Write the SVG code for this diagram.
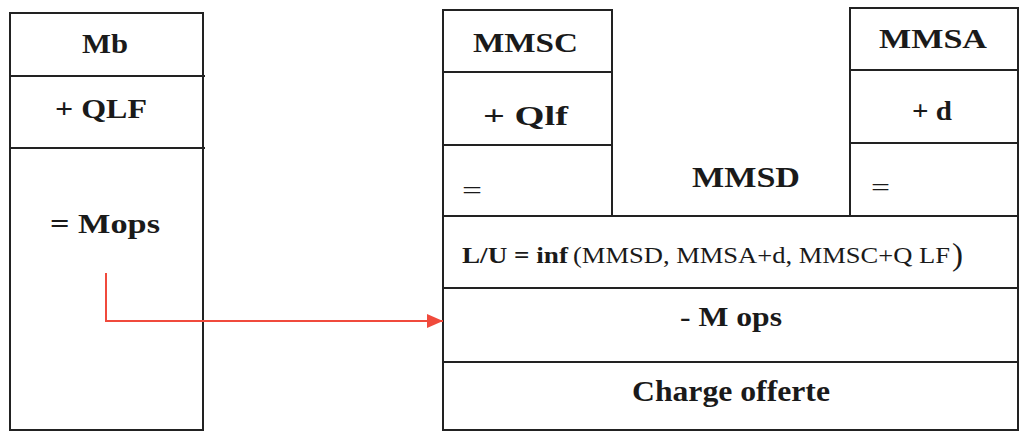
<svg xmlns="http://www.w3.org/2000/svg" width="1020" height="432" viewBox="0 0 1020 432">
<style>
.box{fill:none;stroke:#222;stroke-width:2}
.ln{stroke:#222;stroke-width:2}
.b{font-family:"Liberation Serif",serif;font-weight:bold;fill:#1a1a1a}
.r{font-family:"Liberation Serif",serif;font-weight:normal;fill:#1a1a1a}
.conn{fill:none;stroke:#f04a3c;stroke-width:2}
</style>
<defs>
<marker id="ah" viewBox="0 0 16 14" refX="16" refY="7" markerWidth="16" markerHeight="14" markerUnits="userSpaceOnUse" orient="auto">
<path d="M0,0 L16,7 L0,14 Z" fill="#f04a3c"/>
</marker>
</defs>
<rect width="1020" height="432" fill="#fff"/>

<g id="left">
<rect class="box" x="10" y="13" width="193" height="417"/>
<line class="ln" x1="10" y1="76" x2="205" y2="76"/>
<line class="ln" x1="10" y1="148" x2="205" y2="148"/>
<text class="b" x="82" y="53" font-size="27" textLength="46" lengthAdjust="spacingAndGlyphs">Mb</text>
<text class="b" x="55" y="118" font-size="27" textLength="92" lengthAdjust="spacingAndGlyphs">+ QLF</text>
<text class="b" x="50" y="233" font-size="27" textLength="110" lengthAdjust="spacingAndGlyphs">=  Mops</text>
</g>

<g id="mmsc">
<rect class="box" x="443" y="10" width="169" height="206"/>
<line class="ln" x1="443" y1="72" x2="612" y2="72"/>
<line class="ln" x1="443" y1="145" x2="612" y2="145"/>
<text class="b" x="473" y="52" font-size="27" textLength="105" lengthAdjust="spacingAndGlyphs">MMSC</text>
<text class="b" x="483" y="125" font-size="27" textLength="85" lengthAdjust="spacingAndGlyphs">+ Qlf</text>
<text class="r" x="462" y="198" font-size="24" textLength="20" lengthAdjust="spacingAndGlyphs">=</text>
</g>

<g id="mmsa">
<rect class="box" x="850" y="8" width="168" height="208"/>
<line class="ln" x1="850" y1="70" x2="1018" y2="70"/>
<line class="ln" x1="850" y1="143" x2="1018" y2="143"/>
<text class="b" x="879" y="48" font-size="27" textLength="108" lengthAdjust="spacingAndGlyphs">MMSA</text>
<text class="b" x="912" y="120" font-size="27" textLength="40" lengthAdjust="spacingAndGlyphs">+ d</text>
<text class="r" x="871" y="195" font-size="24" textLength="19" lengthAdjust="spacingAndGlyphs">=</text>
</g>

<g id="mmsd">
<text class="b" x="692" y="187" font-size="29" textLength="108" lengthAdjust="spacingAndGlyphs">MMSD</text>
</g>

<g id="main">
<rect class="box" x="443" y="216" width="575" height="214"/>
<line class="ln" x1="443" y1="288" x2="1018" y2="288"/>
<line class="ln" x1="443" y1="362" x2="1018" y2="362"/>
<text class="b" x="462" y="263" font-size="23" textLength="106" lengthAdjust="spacingAndGlyphs">L/U = inf</text>
<text class="r" x="573" y="263" font-size="23" textLength="377" lengthAdjust="spacingAndGlyphs">(MMSD, MMSA+d, MMSC+Q LF</text>
<text class="r" x="952" y="265" font-size="32" textLength="11" lengthAdjust="spacingAndGlyphs">)</text>
<text class="b" x="680" y="326" font-size="27" textLength="102" lengthAdjust="spacingAndGlyphs">- M ops</text>
<text class="b" x="632" y="401" font-size="30" textLength="198" lengthAdjust="spacingAndGlyphs">Charge offerte</text>
</g>

<g id="connectors">
<path class="conn" d="M106,273 L106,321 L443,321" marker-end="url(#ah)"/>
</g>
</svg>
